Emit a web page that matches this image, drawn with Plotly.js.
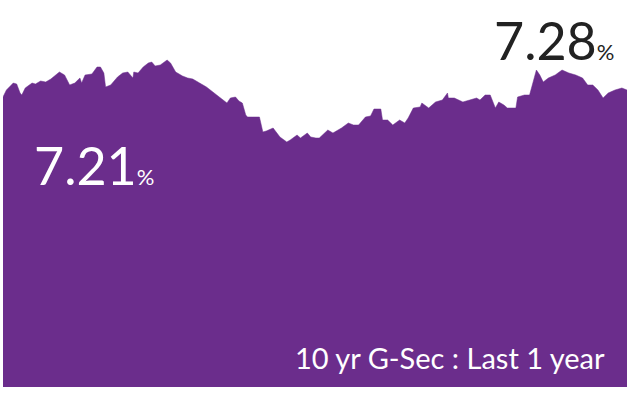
<!DOCTYPE html>
<html>
<head>
<meta charset="utf-8">
<script src="https://cdn.plot.ly/plotly-3.0.1.min.js"></script>
<style>html,body{margin:0;padding:0;background:#fff;}#chart{width:635px;height:395px;}</style>
</head>
<body>
<div id="chart"></div>
<script>
// Trading day (days since start of the one-year window)
const days = [0,2,6,8,10,11,13,17,19,22,25,28,33,36,39,42,45,46,48,52,55,57,59,60,63,67,70,73,76,76.5,79,82,85,87,89,92,96,98,101,105,108,111,115,119,125,131,133,136,138,140,142,143,146,150,152,154,158,162,166,168,172,174,178,180,183,185,190,193,198,202,205,208,212,215,217,221,222,225,228,232,235,237,240,244,245,249,253,257,260,260.5,264,269,273,277,279,282,285,288,290,293,295,300,301,305,308,310,312,314,316,319,323,327,331,335,339,342,345,348,351,354,358,362,365];
// 10 yr G-Sec yield, %
const yields = [7.21,7.28,7.35,7.34,7.25,7.23,7.30,7.35,7.34,7.37,7.36,7.39,7.46,7.43,7.33,7.35,7.40,7.35,7.43,7.44,7.51,7.51,7.45,7.31,7.33,7.41,7.45,7.46,7.40,7.46,7.45,7.51,7.55,7.56,7.52,7.53,7.58,7.55,7.46,7.42,7.40,7.39,7.35,7.31,7.23,7.15,7.20,7.21,7.17,7.15,7.03,7.01,7.01,7.01,6.86,6.87,6.90,6.81,6.76,6.78,6.83,6.80,6.85,6.81,6.80,6.80,6.88,6.85,6.90,6.95,6.93,6.93,7.01,7.02,7.09,7.09,6.98,6.98,6.93,6.98,6.95,7.00,7.10,7.11,7.15,7.10,7.16,7.18,7.25,7.20,7.20,7.16,7.18,7.20,7.18,7.23,7.23,7.10,7.16,7.13,7.10,7.10,7.21,7.23,7.23,7.36,7.48,7.43,7.36,7.40,7.43,7.48,7.45,7.43,7.40,7.33,7.33,7.28,7.20,7.25,7.28,7.30,7.28];
const startLabel = "7.21";
const endLabel = "7.28";
const caption = "10 yr G-Sec : Last 1 year";

const purple = "#6b2d8c";
const trace = {
  x: days, y: yields, type: "scatter", mode: "lines",
  line: {color: purple, width: 0.5},
  fill: "tozeroy", fillcolor: purple, hoverinfo: "skip"
};
const font = "Lato, 'Open Sans', sans-serif";
const layout = {
  width: 635, height: 395,
  margin: {l: 3, r: 8, t: 0, b: 8, pad: 0},
  paper_bgcolor: "#fff", plot_bgcolor: "#fff",
  showlegend: false,
  xaxis: {visible: false, range: [0, 365], fixedrange: true},
  yaxis: {visible: false, range: [4.31, 8.18], fixedrange: true},
  annotations: [
    {xref: "paper", yref: "paper", x: 0.046, y: 0.574, xanchor: "left", yanchor: "middle", showarrow: false,
     text: startLabel + "<span style='font-size:22px'>%</span>", font: {family: font, size: 52, color: "#ffffff"}},
    {xref: "paper", yref: "paper", x: 0.983, y: 0.897, xanchor: "right", yanchor: "middle", showarrow: false,
     text: endLabel + "<span style='font-size:22px'>%</span>", font: {family: font, size: 52, color: "#222222"}},
    {xref: "paper", yref: "paper", x: 0.968, y: 0.077, xanchor: "right", yanchor: "middle", showarrow: false,
     text: caption, font: {family: font, size: 29, color: "#ffffff"}}
  ]
};
Plotly.newPlot("chart", [trace], layout, {displayModeBar: false, staticPlot: true});
</script>
</body>
</html>
